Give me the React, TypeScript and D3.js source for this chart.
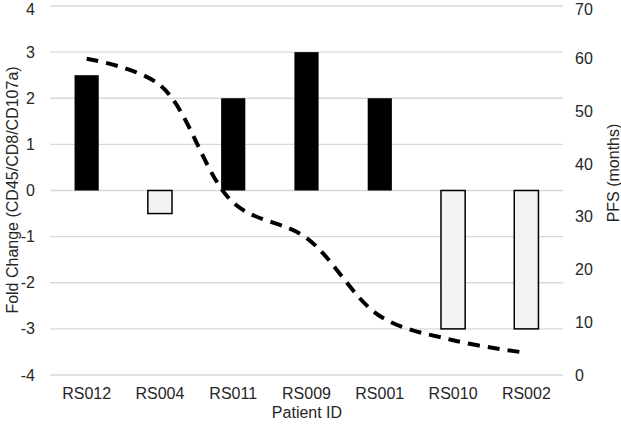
import React, { useEffect, useRef } from 'react';
import * as d3 from 'd3';

const patients = ['RS012', 'RS004', 'RS011', 'RS009', 'RS001', 'RS010', 'RS002'];
const foldChange = [2.5, -0.5, 2, 3, 2, -3, -3];
const pfs = [60, 55, 32.7, 26, 11.2, 6.6, 4.2];
const leftTicks = [-4, -3, -2, -1, 0, 1, 2, 3, 4];
const rightTicks = [0, 10, 20, 30, 40, 50, 60, 70];

const App = () => {
    const ref = useRef<SVGSVGElement>(null);

    useEffect(() => {
        const svg = d3.select(ref.current);
        svg.selectAll('*').remove();

        const margin = { top: 6, right: 58, bottom: 50, left: 50 };
        const width = 621 - margin.left - margin.right;
        const height = 425 - margin.top - margin.bottom;
        const font = 'Liberation Sans, Arial, sans-serif';

        const g = svg.append('g').attr('transform', 'translate(' + margin.left + ',' + margin.top + ')');

        const x = d3.scaleBand().domain(patients).range([0, width]).paddingInner(0.67).paddingOuter(0.335);
        const y = d3.scaleLinear().domain([-4, 4]).range([height, 0]);
        const y2 = d3.scaleLinear().domain([0, 70]).range([height, 0]);
        const xc = (d: string) => (x(d) as number) + x.bandwidth() / 2;
        // keep the topmost labels inside the picture
        const labelY = (v: number) => Math.max(v, 3);

        // grid
        g.selectAll('.grid')
            .data(leftTicks)
            .enter().append('line')
            .attr('x1', 0).attr('x2', width)
            .attr('y1', d => y(d)).attr('y2', d => y(d))
            .attr('stroke', '#d9d9d9').attr('stroke-width', 1.3);

        // bars
        g.selectAll('.bar')
            .data(patients)
            .enter().append('rect')
            .attr('x', d => x(d) as number)
            .attr('width', x.bandwidth())
            .attr('y', (d, i) => y(Math.max(0, foldChange[i])))
            .attr('height', (d, i) => Math.abs(y(foldChange[i]) - y(0)))
            .attr('fill', (d, i) => foldChange[i] >= 0 ? '#000' : '#f2f2f2')
            .attr('stroke', '#000')
            .attr('stroke-width', (d, i) => foldChange[i] >= 0 ? 0 : 1.5);

        // PFS line
        const line = d3.line<number>()
            .x((d, i) => xc(patients[i]))
            .y(d => y2(d))
            .curve(d3.curveCatmullRom.alpha(0.5));

        g.append('path')
            .datum(pfs)
            .attr('d', line)
            .attr('fill', 'none')
            .attr('stroke', '#000')
            .attr('stroke-width', 4)
            .attr('stroke-dasharray', '12,8');

        // left axis labels
        g.selectAll('.ly')
            .data(leftTicks)
            .enter().append('text')
            .attr('x', -15).attr('y', d => labelY(y(d))).attr('dy', '0.35em')
            .attr('text-anchor', 'end')
            .attr('font-family', font).attr('font-size', 16).attr('fill', '#262626')
            .text(d => d);

        // right axis labels
        g.selectAll('.ry')
            .data(rightTicks)
            .enter().append('text')
            .attr('x', width + 12).attr('y', d => labelY(y2(d))).attr('dy', '0.35em')
            .attr('text-anchor', 'start')
            .attr('font-family', font).attr('font-size', 16).attr('fill', '#262626')
            .text(d => d);

        // category labels
        g.selectAll('.cx')
            .data(patients)
            .enter().append('text')
            .attr('x', d => xc(d)).attr('y', height + 24)
            .attr('text-anchor', 'middle')
            .attr('font-family', font).attr('font-size', 16).attr('fill', '#262626')
            .text(d => d);

        // axis titles
        svg.append('text')
            .attr('x', 307).attr('y', 418)
            .attr('text-anchor', 'middle')
            .attr('font-family', font).attr('font-size', 16).attr('fill', '#262626')
            .text('Patient ID');

        svg.append('text')
            .attr('transform', 'translate(18,190) rotate(-90)')
            .attr('text-anchor', 'middle')
            .attr('font-family', font).attr('font-size', 16).attr('fill', '#262626')
            .text('Fold Change (CD45/CD8/CD107a)');

        svg.append('text')
            .attr('transform', 'translate(619,173) rotate(-90)')
            .attr('text-anchor', 'middle')
            .attr('font-family', font).attr('font-size', 16).attr('fill', '#262626')
            .text('PFS (months)');
    }, []);

    return (
        <svg ref={ref} width={621} height={425} style={{ position: 'absolute', left: 0, top: 0, background: '#fff' }} />
    );
};

export default App;
